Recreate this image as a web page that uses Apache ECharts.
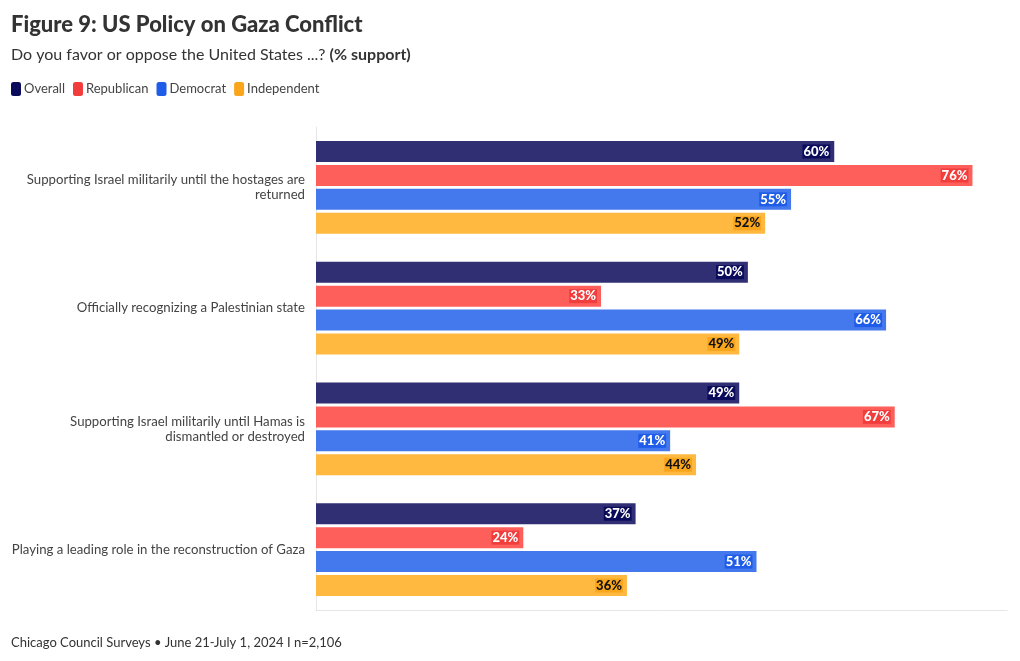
<!DOCTYPE html>
<html><head><meta charset="utf-8">
<script src="https://cdn.jsdelivr.net/npm/echarts@6/dist/echarts.min.js"></script>
<style>html,body{margin:0;padding:0;background:#fff}#c{width:1020px;height:661px}</style>
</head><body><div id="c"></div>
<script>
const categories = [
  'Supporting Israel militarily until the hostages are\nreturned',
  'Officially recognizing a Palestinian state',
  'Supporting Israel militarily until Hamas is\ndismantled or destroyed',
  'Playing a leading role in the reconstruction of Gaza'
];
const seriesNames = ['Overall', 'Republican', 'Democrat', 'Independent'];
const overall = [60, 50, 49, 37];
const republican = [76, 33, 67, 24];
const democrat = [55, 66, 41, 51];
const independent = [52, 49, 44, 36];

const FONT = 'Lato';
const barColors = ['#302f73', '#ff5f5a', '#4479ee', '#ffb940'];
const legendColors = ['#0b0b5c', '#f23d3d', '#1f5ce8', '#f9a61d'];
const labelColors = ['#fff', '#fff', '#fff', '#111'];
const labelBg = ['#0b0b5c', '#f23d3d', '#1f5ce8', '#f9a61d'];
const values = [overall, republican, democrat, independent];

const chart = echarts.init(document.getElementById('c'), null, {renderer: 'canvas'});
chart.setOption({
  animation: false,
  textStyle: {fontFamily: FONT},
  title: [{
    left: 11, top: 14, padding: 0,
    text: 'Figure 9: US Policy on Gaza Conflict',
    textStyle: {fontFamily: FONT, fontSize: 22, fontWeight: 900, color: '#333'}
  }, {
    left: 11, top: 47, padding: 0,
    text: '{a|Do you favor or oppose the United States ...? }{b|(% support)}',
    textStyle: {rich: {
      a: {fontFamily: FONT, fontSize: 16, color: '#333', fontWeight: 'normal'},
      b: {fontFamily: FONT, fontSize: 16, color: '#333', fontWeight: 'bold'}
    }}
  }, {
    left: 11, top: 636, padding: 0,
    text: 'Chicago Council Surveys • June 21-July 1, 2024 I n=2,106',
    textStyle: {fontFamily: FONT, fontSize: 13, fontWeight: 'normal', color: '#333'}
  }],
  legend: {
    left: 11, top: 82, padding: 0,
    icon: 'roundRect',
    itemWidth: 10, itemHeight: 14, itemGap: 8,
    textStyle: {fontFamily: FONT, fontSize: 13, color: '#444', padding: [0, 0, 0, -2]},
    data: seriesNames.map((n, i) => ({name: n, itemStyle: {color: legendColors[i]}}))
  },
  grid: {left: 316, right: 13, top: 127, bottom: 51, containLabel: false},
  xAxis: {
    type: 'value', min: 0, max: 80,
    axisLabel: {show: false}, axisTick: {show: false},
    splitLine: {show: false},
    axisLine: {show: true, lineStyle: {color: '#e6e6e6'}}
  },
  yAxis: {
    type: 'category', inverse: true, data: categories,
    axisTick: {show: false},
    axisLine: {show: true, lineStyle: {color: '#e6e6e6'}},
    axisLabel: {fontFamily: FONT, fontSize: 13.2, color: '#444', margin: 11, lineHeight: 15, align: 'right'}
  },
  series: seriesNames.map((n, i) => ({
    name: n, type: 'bar', data: values[i],
    barWidth: 21, barGap: '14%',
    itemStyle: {color: barColors[i]},
    label: {
      show: true, position: 'insideRight', offset: [1, 0],
      formatter: '{c}%',
      fontFamily: FONT, fontSize: 13, fontWeight: 900,
      color: labelColors[i], backgroundColor: labelBg[i],
      padding: [1, 1, 0, 1]
    }
  }))
});
</script></body></html>
